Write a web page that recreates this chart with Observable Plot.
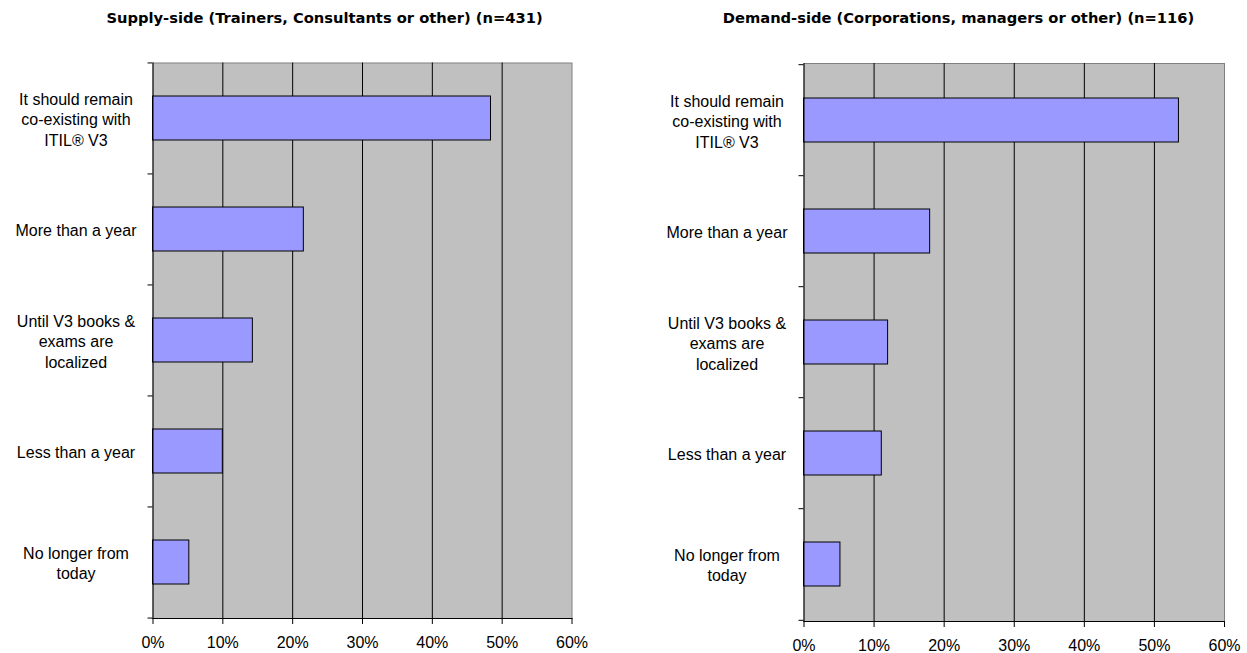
<!DOCTYPE html>
<html>
<head>
<meta charset="utf-8">
<script src="https://cdn.jsdelivr.net/npm/d3@7"></script>
<script src="https://cdn.jsdelivr.net/npm/@observablehq/plot@0.6"></script>
<style>
  html, body { margin: 0; padding: 0; background: #fff; }
  #root { position: relative; width: 1247px; height: 653px; overflow: hidden; }
  .panel { position: absolute; top: 0; }
  .title {
    position: absolute; top: 8px; white-space: nowrap; line-height: 20px;
    font-family: "DejaVu Sans", sans-serif; font-weight: bold; font-size: 14.7px;
    color: #000; transform: translateX(-50%);
  }
</style>
</head>
<body>
<div id="root"></div>
<script>
// Survey answers: how long should ITIL V2 remain relevant?
const categories = [
  "It should remain\nco-existing with\nITIL® V3",
  "More than a year",
  "Until V3 books &\nexams are\nlocalized",
  "Less than a year",
  "No longer from\ntoday"
];
const supplyValues = [48.4, 21.6, 14.3, 10.0, 5.2];
const demandValues = [53.5, 18.0, 12.0, 11.1, 5.2];
const xTicks = [0, 10, 20, 30, 40, 50, 60];
const titles = [
  "Supply-side (Trainers, Consultants or other) (n=431)",
  "Demand-side (Corporations, managers or other) (n=116)"
];

function panel(values, {width, marginLeft, marginRight, marginTop, marginBottom}) {
  const height = 653;
  const data = categories.map((category, i) => ({category, value: values[i]}));
  const step = (height - marginTop - marginBottom) / categories.length;
  return Plot.plot({
    width, height, marginLeft, marginRight, marginTop, marginBottom,
    style: {fontFamily: "'Liberation Sans', Arial, sans-serif", fontSize: "16px", color: "#000", background: "transparent"},
    x: {domain: [0, 60], ticks: xTicks, tickFormat: d => d + "%", label: null},
    y: {domain: categories, paddingInner: 0.6, paddingOuter: 0.3, label: null},
    marks: [
      Plot.frame({fill: "#c0c0c0", stroke: "#808080"}),
      Plot.ruleX(xTicks.slice(1, -1), {stroke: "#000"}),
      Plot.barX(data, {x: "value", y: "category", fill: "#9999ff", stroke: "#000", strokeWidth: 1}),
      Plot.frame({anchor: "left", stroke: "#000"}),
      Plot.frame({anchor: "bottom", stroke: "#000"}),
      Plot.axisX({ticks: xTicks, tickSize: 6, tickPadding: 12, tickFormat: d => d + "%", label: null, fontSize: 16}),
      // category labels, centred in a column left of the axis
      Plot.axisY({tickSize: 0, tickPadding: 77, textAnchor: "middle", lineHeight: 1.28, label: null, fontSize: 16}),
      // ticks at the boundaries between categories
      Plot.axisY(categories, {tickSize: 5, tickFormat: () => "", label: null, dy: -step / 2}),
      Plot.axisY(categories.slice(-1), {tickSize: 5, tickFormat: () => "", label: null, dy: step / 2})
    ]
  });
}

const root = document.getElementById("root");
const layouts = [
  {left: 0, width: 600, marginLeft: 152.5, marginRight: 28.5, marginTop: 62.5, marginBottom: 35, titleX: 324.5},
  {left: 640, width: 607, marginLeft: 163.5, marginRight: 23, marginTop: 63, marginBottom: 32, titleX: 958.5}
];
[supplyValues, demandValues].forEach((values, i) => {
  const L = layouts[i];
  const wrap = document.createElement("div");
  wrap.className = "panel";
  wrap.style.left = L.left + "px";
  wrap.appendChild(panel(values, L));
  root.appendChild(wrap);
  const t = document.createElement("div");
  t.className = "title";
  t.style.left = L.titleX + "px";
  t.textContent = titles[i];
  root.appendChild(t);
});
</script>
</body>
</html>
